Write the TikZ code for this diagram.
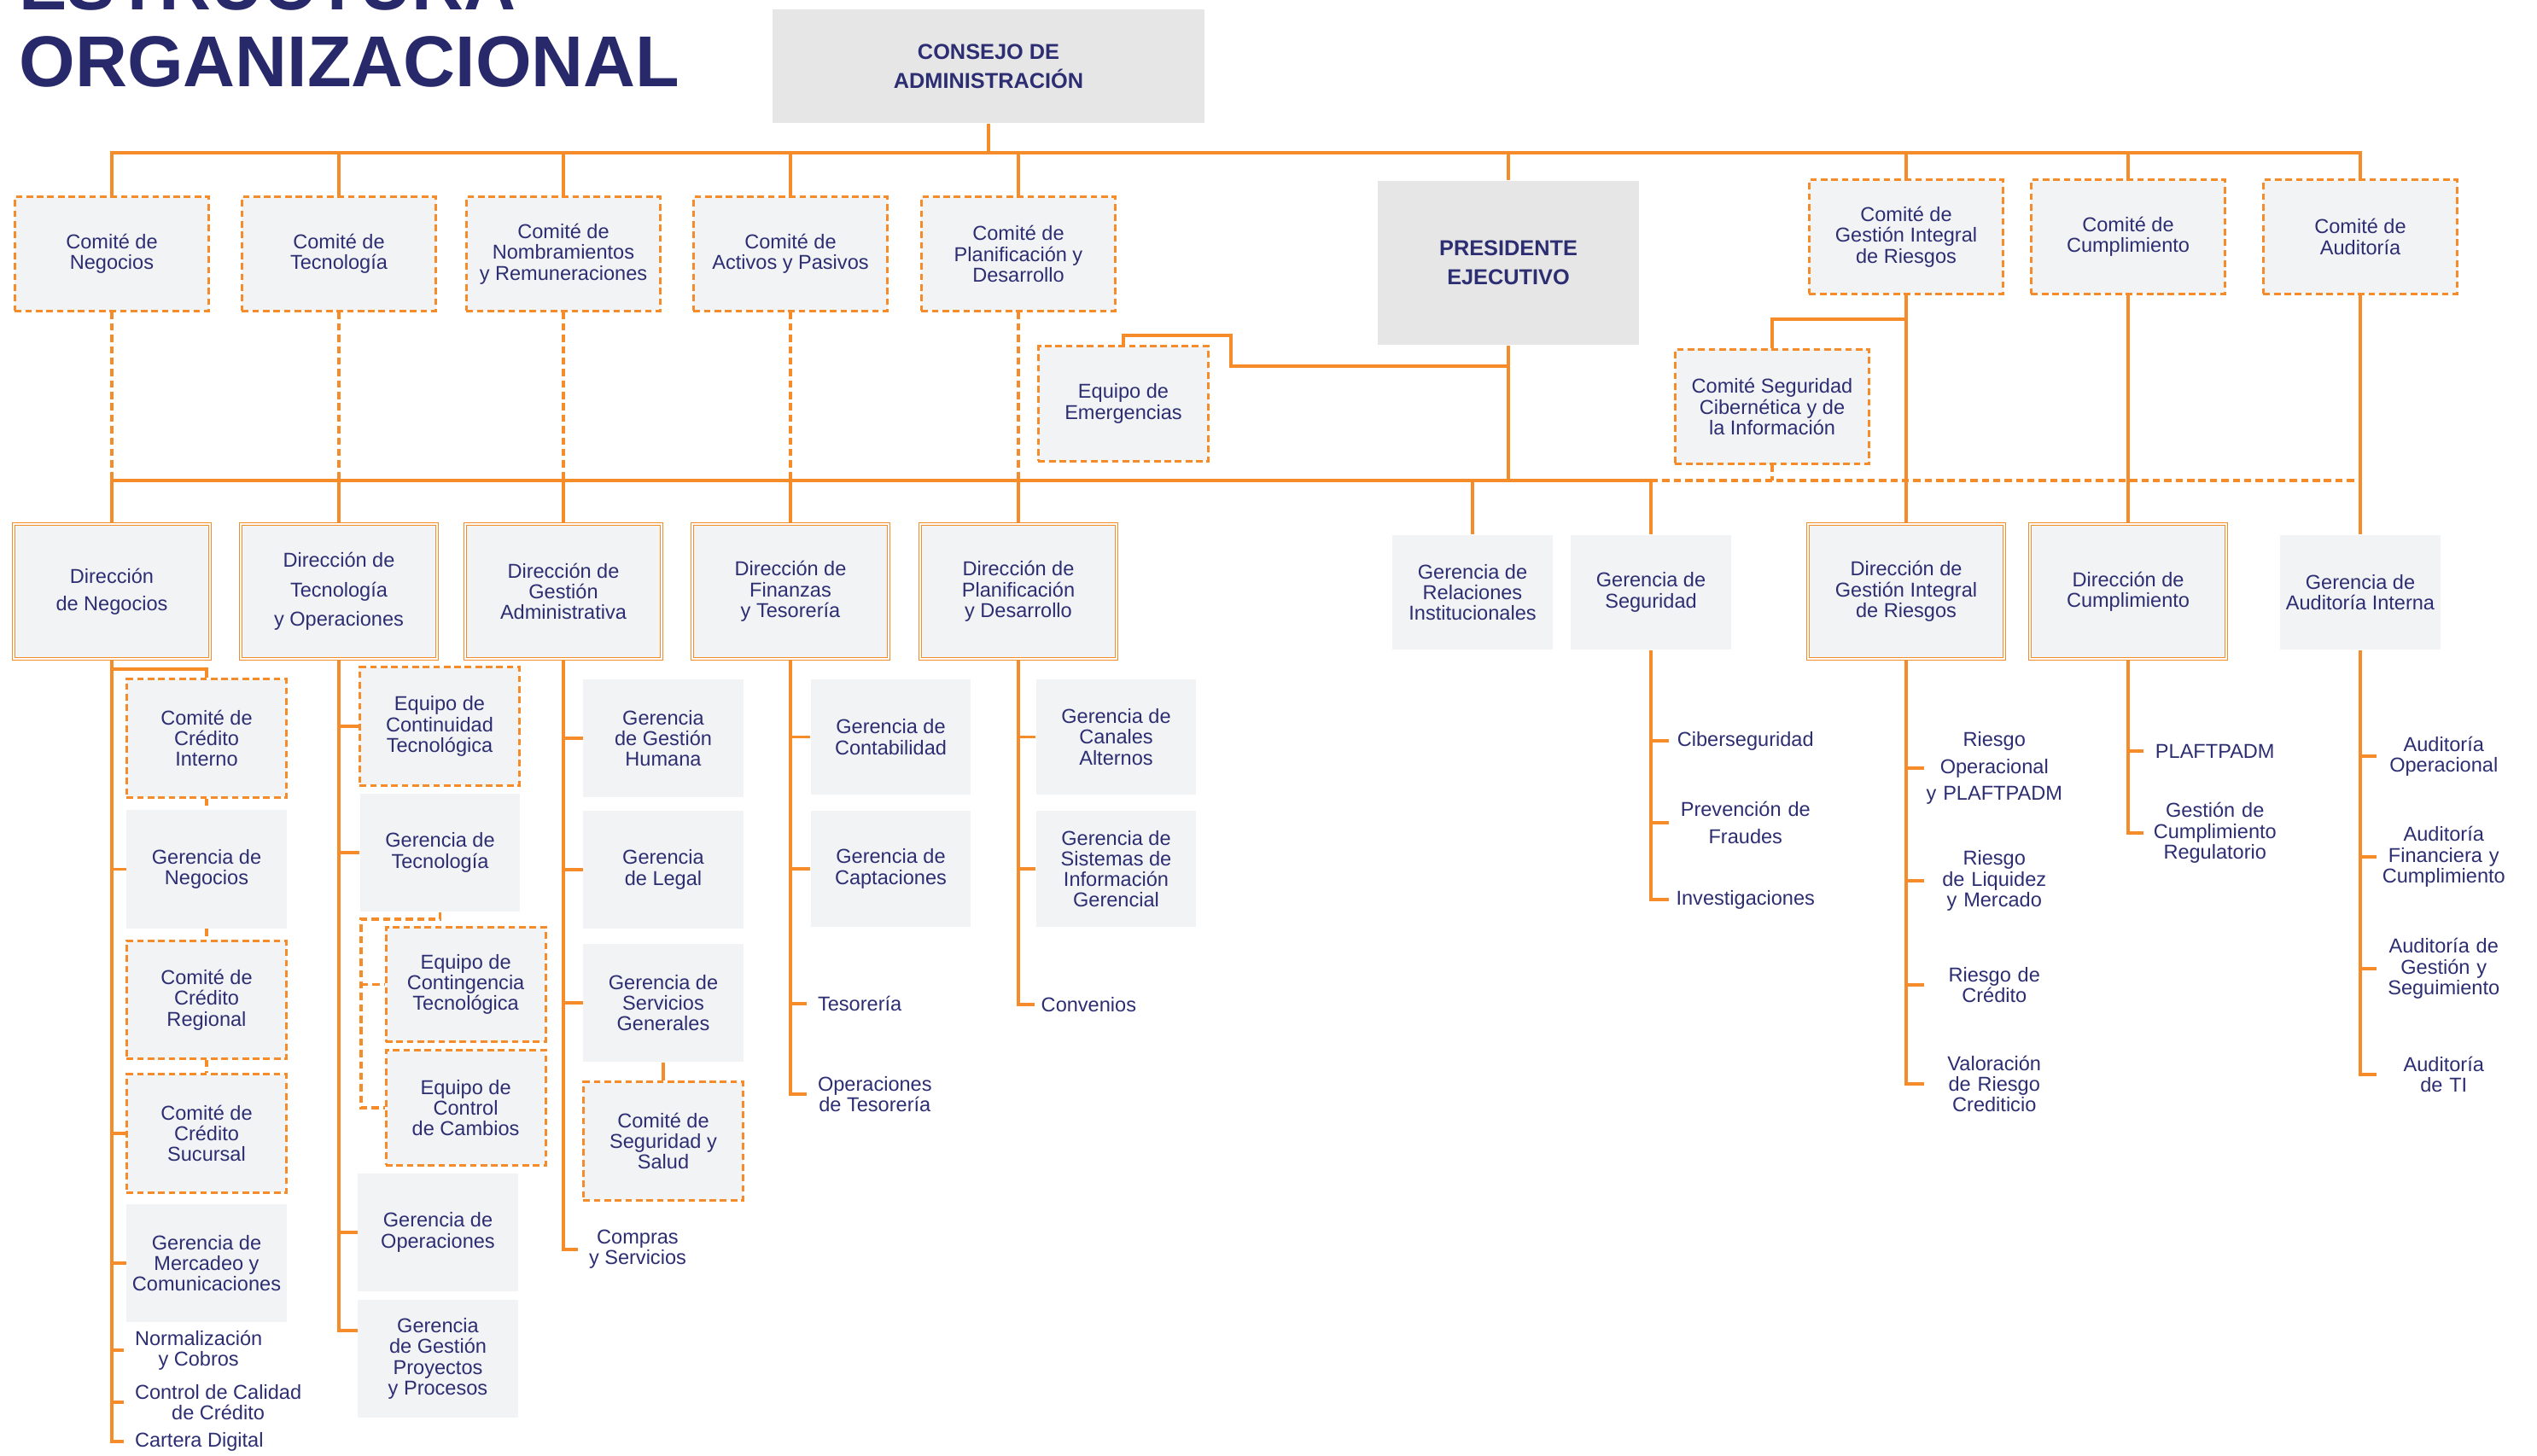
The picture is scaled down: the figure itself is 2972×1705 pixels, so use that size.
\documentclass[tikz,border=0pt]{standalone}
\usepackage{fontspec}
\setmainfont{Liberation Sans}
\usetikzlibrary{positioning,calc}
\definecolor{OrgOrange}{HTML}{F68B2A}
\definecolor{OrgNavy}{HTML}{2D2E72}
\definecolor{TitleNavy}{HTML}{27296B}
\definecolor{BoxGray}{HTML}{F2F3F5}
\definecolor{BoardGray}{HTML}{E6E6E6}

\begin{document}
\begin{tikzpicture}[x=.01cm,y=-.01cm,
  link/.style={draw=OrgOrange,line width=.9pt},
  dlink/.style={link,dash pattern=on 2.4pt off 1.4pt},
  txt/.style={text=OrgNavy,align=center,inner sep=0pt,font=\fontsize{6.7}{6.9}\selectfont},
  airy/.style={font=\fontsize{6.7}{9}\selectfont},
  board/.style={txt,fill=BoardGray,font=\bfseries\fontsize{7.2}{9.6}\selectfont},
  combox/.style={txt,fill=BoxGray,draw=OrgOrange,line width=.85pt,dash pattern=on 2.2pt off 1.3pt,minimum width=2.27cm,minimum height=1.33cm},
  dirbox/.style={txt,fill=BoxGray,draw=OrgOrange,line width=.45pt,double=white,double distance=.45pt,minimum width=2.3cm,minimum height=1.58cm},
  gerbox/.style={txt,fill=BoxGray,minimum width=1.87cm,minimum height=1.345cm},
  subbox/.style={txt,fill=BoxGray,minimum width=1.87cm,minimum height=1.38cm},
  subcom/.style={subbox,draw=OrgOrange,line width=.85pt,dash pattern=on 2.2pt off 1.3pt},
  orgitem/.style={txt,anchor=west,inner xsep=3.5pt},
  orgcol/.style={txt,anchor=west,text width=#1},
  titlefont/.style={text=TitleNavy,inner sep=0pt,anchor=base west,font=\bfseries\fontsize{24}{28}\selectfont}]
  \useasboundingbox (0,0) rectangle (2972,1705);
  \clip (0,0) rectangle (2972,1705);
  \fill[white] (0,0) rectangle (2972,1705);

  \node[titlefont] (tit1) at (22,11) {ESTRUCTURA};
  \node[titlefont] (tit2) at (22,101) {ORGANIZACIONAL};

  % consejo, presidencia y comites
  \node[board,minimum width=5.05cm,minimum height=1.33cm] (consejo) at (1158,77.5) {CONSEJO DE\\ADMINISTRACIÓN};
  \node[board,minimum width=3.06cm,minimum height=1.92cm] (pres) at (1767,308) {PRESIDENTE\\EJECUTIVO};
  \node[combox] (cneg) at (131,297.5) {Comité de\\Negocios};
  \node[combox] (ctec) at (397,297.5) {Comité de\\Tecnología};
  \node[combox] (cnom) at (660,297.5) {Comité de\\Nombramientos\\y Remuneraciones};
  \node[combox] (cact) at (926,297.5) {Comité de\\Activos y Pasivos};
  \node[combox] (cpla) at (1193,297.5) {Comité de\\Planificación y\\Desarrollo};
  \node[combox] (cgir) at (2233,277.5) {Comité de\\Gestión Integral\\de Riesgos};
  \node[combox] (ccum) at (2493,277.5) {Comité de\\Cumplimiento};
  \node[combox] (caud) at (2765,277.5) {Comité de\\Auditoría};
  \node[combox,minimum width=1.99cm,minimum height=1.34cm] (emerg) at (1316,473) {Equipo de\\Emergencias};
  \node[combox,minimum height=1.34cm] (ccib) at (2076,476.5) {Comité Seguridad\\Cibernética y de\\la Información};

  % direcciones y gerencias
  \node[dirbox,airy] (dneg) at (131,693) {Dirección\\de Negocios};
  \node[dirbox,font=\fontsize{6.7}{9.8}\selectfont] (dtec) at (397,693) {Dirección de\\Tecnología\\y Operaciones};
  \node[dirbox] (dadm) at (660,693) {Dirección de\\Gestión\\Administrativa};
  \node[dirbox] (dfin) at (926,693) {Dirección de\\Finanzas\\y Tesorería};
  \node[dirbox] (dpla) at (1193,693) {Dirección de\\Planificación\\y Desarrollo};
  \node[gerbox] (grel) at (1725,694) {Gerencia de\\Relaciones\\Institucionales};
  \node[gerbox] (gseg) at (1934,694) {Gerencia de\\Seguridad};
  \node[dirbox] (dgir) at (2233,693) {Dirección de\\Gestión Integral\\de Riesgos};
  \node[dirbox] (dcum) at (2493,693) {Dirección de\\Cumplimiento};
  \node[gerbox] (gaud) at (2765,694) {Gerencia de\\Auditoría Interna};

  % barras
  \coordinate (busT) at (131,179);
  \coordinate (busM) at (131,563);
  \coordinate (emk1) at (1442,393);
  \coordinate (emk2) at (1442,429);
  \coordinate (girk) at (2233,374);
  \draw[link] (cneg.north) |- (busT -| caud.north) -- (caud.north);
  \draw[link] (consejo.south) -- (consejo.south |- busT);
  \foreach \n in {ctec,cnom,cact,cpla,pres,cgir,ccum}
    \draw[link] (\n.north |- busT) -- (\n.north);
  \foreach \n in {cneg,ctec,cnom,cact,cpla}
    \draw[dlink] (\n.south) -- (\n.south |- busM);
  \draw[link] (dneg.north) |- (busM -| gseg.north) -- (gseg.north);
  \draw[dlink] (busM -| gseg.north) -- (busM -| caud.south);
  \foreach \n in {dtec,dadm,dfin,dpla,grel}
    \draw[link] (\n.north |- busM) -- (\n.north);
  \draw[link] (pres.south) -- (pres.south |- busM);
  \draw[link] (emerg.north) |- (emk1) |- (pres.south |- emk2);
  \draw[link] (cgir.south) -- (dgir.north);
  \draw[link] (ccum.south) -- (dcum.north);
  \draw[link] (caud.south) -- (gaud.north);
  \draw[link] (ccib.north) |- (girk);
  \draw[dlink] (ccib.south) -- (ccib.south |- busM);

  % Direccion de Negocios
  \node[subcom] (cci) at (242,865) {Comité de\\Crédito\\Interno};
  \node[subbox] (gneg) at (242,1018.5) {Gerencia de\\Negocios};
  \node[subcom] (ccr) at (242,1171.5) {Comité de\\Crédito\\Regional};
  \node[subcom] (ccs) at (242,1328) {Comité de\\Crédito\\Sucursal};
  \node[subbox] (gmer) at (242,1480) {Gerencia de\\Mercadeo y\\Comunicaciones};
  \node[orgitem] (norm) at (145,1582) {Normalización\\y Cobros};
  \node[orgitem] (ccal) at (145,1643) {Control de Calidad\\de Crédito};
  \node[orgitem] (cdig) at (145,1689) {Cartera Digital};
  \coordinate (negk) at (131,784);
  \draw[link] (dneg.south) |- (cdig.west);
  \draw[link] (negk) -| (cci.north);
  \foreach \n in {gneg,ccs,gmer,norm,ccal}
    \draw[link] (dneg.south |- \n.west) -- (\n.west);
  \draw[dlink] (cci.south) -- (gneg.north);
  \draw[dlink] (gneg.south) -- (ccr.north);
  \draw[dlink] (ccr.south) -- (ccs.north);

  % Direccion de Tecnologia y Operaciones
  \node[subcom] (ect) at (515,851) {Equipo de\\Continuidad\\Tecnológica};
  \node[subbox] (gtec) at (515.5,999) {Gerencia de\\Tecnología};
  \node[subcom,minimum height=1.34cm] (ecg) at (545.6,1153.5) {Equipo de\\Contingencia\\Tecnológica};
  \node[subcom,minimum height=1.34cm] (ecc) at (545.6,1298) {Equipo de\\Control\\de Cambios};
  \node[subbox] (gop) at (513,1444) {Gerencia de\\Operaciones};
  \node[subbox] (gpp) at (513,1592) {Gerencia\\de Gestión\\Proyectos\\y Procesos};
  \coordinate (tecd) at (423,1077);
  \draw[link] (dtec.south) |- ([yshift=9.4pt]gpp.west);
  \foreach \n in {ect,gtec,gop}
    \draw[link] (dtec.south |- \n.west) -- (\n.west);
  \draw[dlink] (gtec.south) |- (tecd) |- (ecc.west);
  \draw[dlink] (tecd |- ecg.west) -- (ecg.west);

  % Direccion de Gestion Administrativa
  \node[subbox] (ggh) at (777,865) {Gerencia\\de Gestión\\Humana};
  \node[subbox] (gleg) at (777,1019) {Gerencia\\de Legal};
  \node[subbox] (gsg) at (777,1175) {Gerencia de\\Servicios\\Generales};
  \node[subcom] (csys) at (777,1337) {Comité de\\Seguridad y\\Salud};
  \node[orgitem] (cys) at (677,1464) {Compras\\y Servicios};
  \draw[link] (dadm.south) |- (cys.west);
  \foreach \n in {ggh,gleg,gsg}
    \draw[link] (dadm.south |- \n.west) -- (\n.west);
  \draw[link] (gsg.south) -- (csys.north);

  % Direccion de Finanzas y Tesoreria
  \node[subbox,minimum height=1.35cm] (gcon) at (1043.5,863.5) {Gerencia de\\Contabilidad};
  \node[subbox,minimum height=1.35cm] (gcap) at (1043.5,1018) {Gerencia de\\Captaciones};
  \node[orgitem] (tes) at (945,1176) {Tesorería};
  \node[orgitem] (otes) at (945,1282) {Operaciones\\de Tesorería};
  \draw[link] (dfin.south) |- (otes.west);
  \foreach \n in {gcon,gcap,tes}
    \draw[link] (dfin.south |- \n.west) -- (\n.west);

  % Direccion de Planificacion y Desarrollo
  \node[subbox,minimum height=1.35cm] (gca) at (1307.5,863.5) {Gerencia de\\Canales\\Alternos};
  \node[subbox,minimum height=1.35cm] (gsig) at (1307.5,1018) {Gerencia de\\Sistemas de\\Información\\Gerencial};
  \node[orgitem,inner xsep=2pt] (conv) at (1212,1177) {Convenios};
  \draw[link] (dpla.south) |- (conv.west);
  \foreach \n in {gca,gsig}
    \draw[link] (dpla.south |- \n.west) -- (\n.west);

  % Gerencia de Seguridad
  \node[orgcol=1.78cm] (cib) at (1955,868) {Ciberseguridad};
  \node[orgcol=1.78cm,airy] (pfr) at (1955,964) {Prevención de\\Fraudes};
  \node[orgcol=1.78cm] (inv) at (1955,1054) {Investigaciones};
  \draw[link] (gseg.south) |- (inv.west);
  \foreach \n in {cib,pfr}
    \draw[link] (gseg.south |- \n.west) -- (\n.west);

  % Direccion de Gestion Integral de Riesgos
  \node[orgcol=1.63cm,airy] (rop) at (2254,900) {Riesgo\\Operacional\\y PLAFTPADM};
  \node[orgcol=1.63cm] (liq) at (2254,1032) {Riesgo\\de Liquidez\\y Mercado};
  \node[orgcol=1.63cm] (rcr) at (2254,1154) {Riesgo de\\Crédito};
  \node[orgcol=1.63cm] (vrc) at (2254,1270) {Valoración\\de Riesgo\\Crediticio};
  \draw[link] (dgir.south) |- (vrc.west);
  \foreach \n in {rop,liq,rcr}
    \draw[link] (dgir.south |- \n.west) -- (\n.west);

  % Direccion de Cumplimiento
  \node[orgcol=1.66cm] (plaf) at (2511,880) {PLAFTPADM};
  \node[orgcol=1.66cm] (gcr) at (2511,976) {Gestión de\\Cumplimiento\\Regulatorio};
  \draw[link] (dcum.south) |- (gcr.west);
  \draw[link] (dcum.south |- plaf.west) -- (plaf.west);

  % Gerencia de Auditoria Interna
  \node[orgcol=1.56cm] (aop) at (2784,886) {Auditoría\\Operacional};
  \node[orgcol=1.56cm] (afc) at (2784,1004) {Auditoría\\Financiera y\\Cumplimiento};
  \node[orgcol=1.56cm] (ags) at (2784,1135) {Auditoría de\\Gestión y\\Seguimiento};
  \node[orgcol=1.56cm] (ati) at (2784,1259) {Auditoría\\de TI};
  \draw[link] (gaud.south) |- (ati.west);
  \foreach \n in {aop,afc,ags}
    \draw[link] (gaud.south |- \n.west) -- (\n.west);
\end{tikzpicture}
\end{document}
